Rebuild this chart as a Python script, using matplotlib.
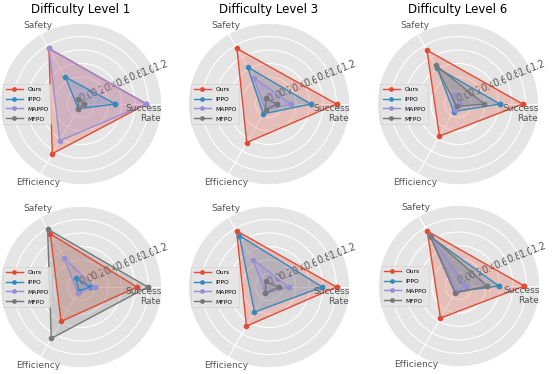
import numpy as np
import matplotlib
matplotlib.use("Agg")
import matplotlib.pyplot as plt

plt.style.use("ggplot")

# axes of the radar, in drawing order
labels = ["Success\nRate", "Safety", "Efficiency"]
methods = ["Ours", "IPPO", "MAPPO", "MFPO"]
titles = ["Difficulty Level 1", "Difficulty Level 3", "Difficulty Level 6", "", "", ""]

# values per panel: [Success Rate, Safety, Efficiency]
ours = [[0.97, 0.95, 0.85], [1.00, 0.95, 0.66], [0.96, 0.92, 0.55],
        [0.83, 0.91, 0.59], [1.00, 0.96, 0.67], [0.97, 0.94, 0.55]]
ippo = [[0.51, 0.46, 0.08], [0.62, 0.63, 0.17], [0.62, 0.62, 0.13],
        [0.14, 0.15, 0.07], [0.79, 0.88, 0.43], [0.59, 0.84, 0.10]]
mappo = [[0.97, 0.95, 0.63], [0.32, 0.45, 0.10], [0.03, 0.16, 0.10],
         [0.20, 0.50, 0.10], [0.29, 0.47, 0.11], [0.10, 0.85, 0.10]]
mfpo = [[0.04, 0.08, 0.08], [0.12, 0.10, 0.10], [0.39, 0.66, 0.04],
        [0.99, 0.99, 0.88], [0.15, 0.10, 0.11], [0.42, 0.86, 0.12]]
series = [ours, ippo, mappo, mfpo]

angles = np.linspace(0, 2 * np.pi, len(labels), endpoint=False)
closed = np.concatenate([angles, angles[:1]])

W, H = 554, 374
R = 81
centers = [(81, 104), (269, 104), (458, 104),
           (81, 287), (269, 287), (459, 286)]

# where each axis name sits: (radius, ha, va)
label_pos = [(1.19, "right", "top"), (1.27, "center", "bottom"),
             (1.27, "center", "top")]

fig = plt.figure(figsize=(W / 100, H / 100), dpi=100)

for k, (cx, cy) in enumerate(centers):
    ax = fig.add_axes([(cx - R) / W, (H - cy - R) / H, 2 * R / W, 2 * R / H],
                      projection="polar")
    for name, data in zip(methods, series):
        vals = np.array(data[k] + data[k][:1])
        ax.plot(closed, vals, "o-", lw=1, ms=3, label=name)
        ax.fill(closed, vals, alpha=0.25)
    ax.set_thetagrids(np.degrees(angles), [""] * len(labels))
    ax.set_ylim(0, 1.2)
    ax.set_yticks(np.arange(0, 1.21, 0.2))
    ax.tick_params(axis="y", labelsize=7, colors="#555555", labelrotation=20)
    for ang, text, (r, ha, va) in zip(angles, labels, label_pos):
        ax.text(ang, r, text, ha=ha, va=va, fontsize=6.5, color="#555555",
                clip_on=False)
    if titles[k]:
        ax.set_title(titles[k], fontsize=8.5, pad=7)
    ax.legend(loc="center left", bbox_to_anchor=(0.02, 0.5), fontsize=4.3,
              borderaxespad=0, labelspacing=0.8, handlelength=2.9,
              markerscale=0.8)

fig.savefig("out.png", dpi=100)
